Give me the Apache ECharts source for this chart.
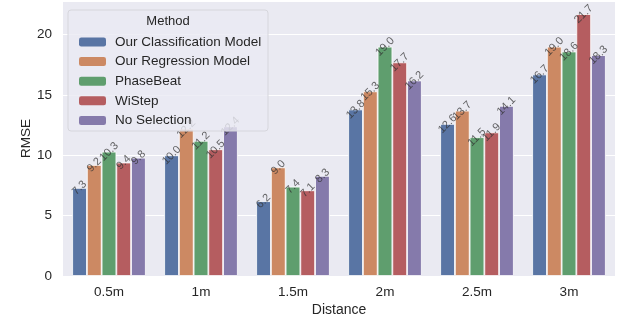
<!DOCTYPE html>
<html lang="en">
<head>
    <meta charset="UTF-8">
    <title>RMSE by Distance</title>
    <script src="https://cdn.jsdelivr.net/npm/echarts@6/dist/echarts.min.js"></script>
</head>
<body style="margin:0;background:#fff">
<div id="main" style="width: 625px;height:318px;"></div>
<script type="text/javascript">
    var distances = ['0.5m', '1m', '1.5m', '2m', '2.5m', '3m'];
    var methods = ['Our Classification Model', 'Our Regression Model', 'PhaseBeat', 'WiStep', 'No Selection'];
    var classification = [7.3, 10.0, 6.2, 13.8, 12.6, 16.7];
    var regression = [9.2, 12.2, 9.0, 15.3, 13.7, 19.0];
    var phaseBeat = [10.3, 11.2, 7.4, 19.0, 11.5, 18.6];
    var wiStep = [9.4, 10.5, 7.1, 17.7, 11.9, 21.7];
    var noSelection = [9.8, 12.4, 8.3, 16.2, 14.1, 18.3];
    var yTicks = [0, 5, 10, 15, 20];

    var colors = ['#5975a4', '#cc8963', '#5f9e6e', '#b55d60', '#857aab'];
    var values = [classification, regression, phaseBeat, wiStep, noSelection];
    var font = 'Liberation Sans, Arial, sans-serif';

    var myChart = echarts.init(document.getElementById('main'));

    var series = methods.map(function (name, i) {
        return {
            name: name,
            type: 'bar',
            data: values[i],
            barGap: '0%',
            barCategoryGap: '20%',
            itemStyle: {color: colors[i], borderColor: '#ffffff', borderWidth: 0.8},
            label: {
                show: true,
                position: 'top',
                distance: 0,
                rotate: 45,
                align: 'center',
                verticalAlign: 'middle',
                color: 'rgba(50,50,50,0.75)',
                fontSize: 11,
                fontFamily: font,
                formatter: function (p) { return p.value.toFixed(1); }
            }
        };
    });

    var option = {
        animation: false,
        backgroundColor: '#ffffff',
        grid: {
            left: 63, right: 10, top: 1, bottom: 42,
            outerBoundsMode: 'none',
            backgroundColor: '#eaeaf2', show: true, borderWidth: 0
        },
        xAxis: {
            type: 'category',
            data: distances,
            name: 'Distance',
            nameLocation: 'middle',
            nameGap: 27,
            nameMoveOverlap: false,
            nameTextStyle: {color: '#262626', fontSize: 14, fontFamily: font},
            axisLine: {show: false},
            axisTick: {show: false},
            axisLabel: {color: '#262626', fontSize: 13.5, fontFamily: font, margin: 9}
        },
        yAxis: {
            type: 'value',
            min: 0,
            max: 22.785,
            interval: 5,
            name: 'RMSE',
            nameLocation: 'middle',
            nameGap: 30,
            nameMoveOverlap: false,
            nameTextStyle: {color: '#262626', fontSize: 13.5, fontFamily: font},
            axisLine: {show: false},
            axisTick: {show: false},
            axisLabel: {
                color: '#262626', fontSize: 13.5, fontFamily: font, margin: 11,
                formatter: function (v) { return yTicks.indexOf(v) >= 0 ? String(v) : ''; }
            },
            splitLine: {lineStyle: {color: '#ffffff', width: 1}}
        },
        legend: {
            data: methods,
            orient: 'vertical',
            left: 74,
            top: 30,
            itemWidth: 27,
            itemHeight: 9,
            itemGap: 5.6,
            itemStyle: {borderWidth: 0},
            textStyle: {color: '#262626', fontSize: 13.5, fontFamily: font, padding: [0, 0, 0, 4]},
            z: 10
        },
        graphic: [
            {
                type: 'rect',
                shape: {x: 68, y: 10, width: 200, height: 121, r: 3},
                style: {fill: 'rgba(234,234,242,0.8)', stroke: '#d6d6dc', lineWidth: 1},
                z: 5
            },
            {
                type: 'text',
                x: 168,
                y: 21,
                style: {text: 'Method', fill: '#262626', fontSize: 13, fontFamily: font, align: 'center', verticalAlign: 'middle'},
                z: 10
            }
        ],
        series: series
    };
    myChart.setOption(option);
</script>
</body>
</html>
